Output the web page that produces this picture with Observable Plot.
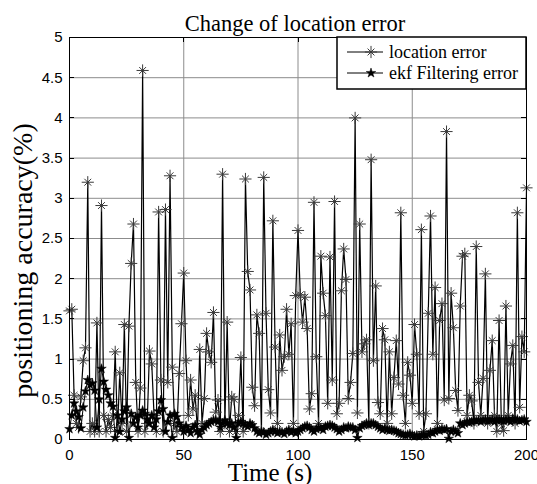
<!DOCTYPE html>
<html>
<head>
<meta charset="utf-8">
<script src="https://cdn.jsdelivr.net/npm/d3@7"></script>
<script src="https://cdn.jsdelivr.net/npm/@observablehq/plot@0.6"></script>
<style>
  html, body { margin: 0; padding: 0; background: #fff; }
  #chart svg { display: block; }
</style>
</head>
<body>
<div id="chart"></div>
<script>
// ---- data ----
const titleText = "Change of location error";
const xLabel = "Time (s)";
const yLabel = "positioning accuracy(%)";
const seriesNames = ["location error", "ekf Filtering error"];
const xTicks = [0, 50, 100, 150, 200];
const yTicks = [0, 0.5, 1, 1.5, 2, 2.5, 3, 3.5, 4, 4.5, 5];

const timeSeconds = [
  0,1,2,3,4,5,6,7,8,9,10,11,12,13,14,15,16,17,18,19,
  20,21,22,23,24,25,26,27,28,29,30,31,32,33,34,35,36,37,38,39,
  40,41,42,43,44,45,46,47,48,49,50,51,52,53,54,55,56,57,58,59,
  60,61,62,63,64,65,66,67,68,69,70,71,72,73,74,75,76,77,78,79,
  80,81,82,83,84,85,86,87,88,89,90,91,92,93,94,95,96,97,98,99,
  100,101,102,103,104,105,106,107,108,109,110,111,112,113,114,115,116,117,118,119,
  120,121,122,123,124,125,126,127,128,129,130,131,132,133,134,135,136,137,138,139,
  140,141,142,143,144,145,146,147,148,149,150,151,152,153,154,155,156,157,158,159,
  160,161,162,163,164,165,166,167,168,169,170,171,172,173,174,175,176,177,178,179,
  180,181,182,183,184,185,186,187,188,189,190,191,192,193,194,195,196,197,198,199,
  200
];

const locationError = [
  1.6, 1.62, 0.55, 0.2, 0.15, 0.53, 0.98, 1.14, 3.2, 0.1,
  0.2, 0.1, 1.45, 0.1, 2.91, 0.3, 0.1, 0.25, 0.15, 0.3,
  1.09, 0.1, 0.83, 0.2, 1.43, 0.1, 1.41, 2.19, 2.68, 0.71,
  0.1, 0.64, 4.59, 0.1, 0.2, 1.1, 0.94, 0.3, 0.1, 2.83,
  0.74, 0.1, 2.86, 0.71, 3.28, 0.9, 0.2, 0.1, 0.82, 1.44,
  2.07, 0.98, 0.3, 0.74, 0.38, 0.55, 0.1, 1.12, 0.2, 0.51,
  1.32, 1.09, 0.96, 1.58, 0.34, 0.49, 0.1, 3.3, 0.2, 1.46,
  0.1, 0.53, 0.5, 0.1, 0.3, 1.02, 0.1, 3.24, 2.09, 1.86,
  0.65, 0.42, 1.55, 1.32, 0.1, 3.26, 1.57, 0.62, 0.33, 2.72,
  1.15, 0.2, 1.3, 0.86, 1.03, 1.62, 1.06, 1.44, 0.2, 1.79,
  2.6, 1.8, 1.46, 1.77, 1.38, 0.38, 0.57, 2.95, 1.03, 0.2,
  2.28, 1.82, 1.54, 0.45, 2.27, 0.74, 2.96, 0.32, 0.45, 1.85,
  2.37, 1.99, 0.51, 0.71, 1.07, 4.0, 0.33, 2.68, 1.09, 1.19,
  1.24, 0.2, 3.48, 0.98, 1.91, 0.46, 0.32, 1.38, 1.24, 0.2,
  1.09, 0.32, 0.77, 1.23, 0.69, 2.82, 0.55, 0.2, 0.96, 0.8,
  0.45, 1.43, 1.06, 0.32, 2.61, 0.1, 0.32, 1.57, 2.78, 1.06,
  1.89, 0.2, 1.48, 1.69, 0.49, 3.83, 0.51, 1.82, 1.39, 0.61,
  0.36, 1.66, 2.28, 2.31, 0.3, 0.55, 0.48, 0.2, 2.4, 0.71,
  0.3, 0.76, 2.06, 0.2, 0.86, 1.23, 0.3, 0.1, 1.48, 0.2,
  0.11, 1.66, 0.3, 0.94, 1.17, 0.2, 2.82, 0.4, 1.28, 1.09,
  3.13
];

const ekfError = [
  0.13, 0.3, 0.45, 0.35, 0.28, 0.14, 0.4, 0.6, 0.74, 0.68,
  0.7, 0.61, 0.15, 0.5, 0.88, 0.72, 0.62, 0.55, 0.45, 0.41,
  0.02, 0.3, 0.1, 0.25, 0.35, 0.4, 0.02, 0.32, 0.2, 0.28,
  0.15, 0.3, 0.36, 0.32, 0.25, 0.2, 0.3, 0.15, 0.25, 0.35,
  0.49, 0.38, 0.1, 0.22, 0.3, 0.02, 0.32, 0.28, 0.2, 0.15,
  0.1, 0.17, 0.12, 0.08, 0.15, 0.18, 0.1, 0.06, 0.12, 0.15,
  0.18, 0.2, 0.22, 0.24, 0.24, 0.22, 0.15, 0.2, 0.24, 0.2,
  0.18, 0.2, 0.15, 0.02, 0.2, 0.22, 0.2, 0.18, 0.16, 0.2,
  0.18, 0.14, 0.1, 0.08, 0.1, 0.09, 0.06, 0.08, 0.1, 0.12,
  0.1, 0.08, 0.1, 0.09, 0.07, 0.1, 0.12, 0.09, 0.11, 0.08,
  0.1, 0.12, 0.14, 0.16, 0.17, 0.15, 0.12, 0.1, 0.13, 0.15,
  0.14, 0.12, 0.16, 0.17, 0.18, 0.17, 0.15, 0.13, 0.1, 0.12,
  0.15, 0.14, 0.16, 0.15, 0.15, 0.12, 0.02, 0.14, 0.17, 0.18,
  0.2, 0.18, 0.2, 0.2, 0.18, 0.16, 0.14, 0.12, 0.14, 0.12,
  0.11, 0.12, 0.11, 0.1, 0.08, 0.07, 0.06, 0.05, 0.06, 0.07,
  0.05, 0.04, 0.05, 0.04, 0.05, 0.06, 0.05, 0.06, 0.09, 0.08,
  0.1, 0.12, 0.11, 0.13, 0.12, 0.13, 0.01, 0.1, 0.12, 0.1,
  0.08, 0.2, 0.18, 0.2, 0.22, 0.21, 0.22, 0.24, 0.23, 0.24,
  0.22, 0.24, 0.25, 0.23, 0.24, 0.25, 0.22, 0.24, 0.25, 0.24,
  0.23, 0.25, 0.24, 0.22, 0.26, 0.24, 0.25, 0.23, 0.24, 0.25,
  0.22
];

// ---- table built from the arrays ----
const rows = timeSeconds.map((t, i) => ({t, loc: locationError[i], ekf: ekfError[i]}));

const serif = "'Liberation Serif', 'Times New Roman', Times, serif";
const sans = "'Liberation Sans', Arial, Helvetica, sans-serif";
const locStroke = "#3a3a3a";
const markR = 4;
const starR = 3;

const chart = Plot.plot({
  width: 537,
  height: 484,
  marginTop: 37,
  marginRight: 11,
  marginBottom: 45,
  marginLeft: 69,
  style: {fontFamily: sans, fontSize: "15px", color: "#000", background: "#fff", overflow: "visible"},
  x: {domain: [0, 200], ticks: xTicks, label: null},
  y: {domain: [0, 5], ticks: yTicks, label: null},
  marks: [
    Plot.gridX(xTicks, {stroke: "#8c8c8c", strokeOpacity: 1, strokeWidth: 1}),
    Plot.gridY(yTicks, {stroke: "#8c8c8c", strokeOpacity: 1, strokeWidth: 1}),
    Plot.lineY(rows, {x: "t", y: "loc", stroke: "#000", strokeWidth: 1.2}),
    Plot.dot(rows, {x: "t", y: "loc", symbol: "plus", r: markR, stroke: locStroke, strokeWidth: 1}),
    Plot.dot(rows, {x: "t", y: "loc", symbol: "times", r: markR * 0.8, stroke: locStroke, strokeWidth: 1}),
    Plot.lineY(rows, {x: "t", y: "ekf", stroke: "#000", strokeWidth: 1}),
    Plot.dot(rows, {x: "t", y: "ekf", symbol: "star", r: starR, fill: "#000", stroke: "#000", strokeWidth: 0.5}),
    Plot.frame({stroke: "#000", strokeWidth: 1}),
    Plot.axisX(xTicks, {anchor: "bottom", tickSize: 0, tickPadding: 10, fontSize: 15, fill: "#000"}),
    Plot.axisY(yTicks, {anchor: "left", tickSize: 0, tickPadding: 7, fontSize: 15, fill: "#000", tickFormat: d => String(d)}),
    Plot.text([titleText], {text: d => d, frameAnchor: "top", textAnchor: "middle", dx: -3, dy: -22, fontFamily: serif, fontSize: 22.5, fill: "#000"}),
    Plot.text([xLabel], {text: d => d, frameAnchor: "bottom", textAnchor: "middle", dx: -28, dy: 41, fontFamily: serif, fontSize: 25, fill: "#000"}),
    Plot.text([yLabel], {text: d => d, frameAnchor: "left", textAnchor: "middle", rotate: -90, dx: -46, dy: 22, fontFamily: serif, fontSize: 28, fill: "#000"})
  ]
});

document.getElementById("chart").appendChild(chart);

// ---- MATLAB-style inward ticks and legend, placed through Plot's scales ----
const sx = chart.scale("x"), sy = chart.scale("y");
const svg = d3.select(chart);
const x0 = sx.apply(0), x1 = sx.apply(200), yb = sy.apply(0), yt = sy.apply(5);
const tk = 5;
const ticks = svg.append("g").attr("stroke", "#000").attr("stroke-width", 1);
for (const v of xTicks) {
  const x = Math.round(sx.apply(v)) + 0.5;
  ticks.append("line").attr("x1", x).attr("x2", x).attr("y1", yb).attr("y2", yb - tk);
  ticks.append("line").attr("x1", x).attr("x2", x).attr("y1", yt).attr("y2", yt + tk);
}
for (const v of yTicks) {
  const y = Math.round(sy.apply(v)) + 0.5;
  ticks.append("line").attr("x1", x0).attr("x2", x0 + tk).attr("y1", y).attr("y2", y);
  ticks.append("line").attr("x1", x1).attr("x2", x1 - tk).attr("y1", y).attr("y2", y);
}

// legend box in the top-right corner of the frame
const lgW = 189, lgH = 52;
const lg = svg.append("g").attr("transform", `translate(${x1 - lgW},${yt})`);
lg.append("rect").attr("x", 0).attr("y", 0).attr("width", lgW).attr("height", lgH)
  .attr("fill", "#fff").attr("stroke", "#000").attr("stroke-width", 1.5);
const rowsY = [15, 36];
seriesNames.forEach((name, i) => {
  const g = lg.append("g").attr("transform", `translate(0,${rowsY[i]})`);
  g.append("line").attr("x1", 10).attr("x2", 46).attr("y1", 0).attr("y2", 0).attr("stroke", "#000").attr("stroke-width", 1);
  if (i === 0) {
    g.append("path").attr("transform", "translate(34,0)")
      .attr("d", d3.symbol(d3.symbolPlus, Math.PI * markR * markR)()).attr("fill", "none").attr("stroke", locStroke);
    g.append("path").attr("transform", "translate(34,0)")
      .attr("d", d3.symbol(d3.symbolTimes, Math.PI * (markR * 0.8) ** 2)()).attr("fill", "none").attr("stroke", locStroke);
  } else {
    g.append("path").attr("transform", "translate(34,0)")
      .attr("d", d3.symbol(d3.symbolStar, Math.PI * starR * starR)()).attr("fill", "#000").attr("stroke", "#000").attr("stroke-width", 0.5);
  }
  g.append("text").attr("x", 52).attr("y", 0).attr("dy", "0.34em").attr("text-anchor", "start")
    .attr("font-family", serif).attr("font-size", 18).attr("fill", "#000").text(name);
});
</script>
</body>
</html>
